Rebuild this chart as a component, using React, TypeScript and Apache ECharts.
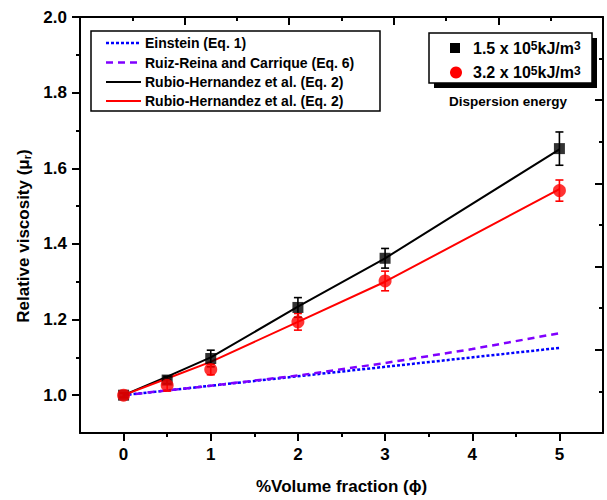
import React, { useEffect, useRef } from "react";
import * as echarts from "echarts";

// Volume fraction (%) of the measured suspensions
const phi = [0, 0.5, 1, 2, 3, 5];
// Relative viscosity, dispersion energy 1.5 x 10^5 kJ/m^3
const muLow = [1.0, 1.04, 1.097, 1.232, 1.362, 1.652];
const errLow = [0.006, 0.01, 0.022, 0.026, 0.026, 0.044];
// Relative viscosity, dispersion energy 3.2 x 10^5 kJ/m^3
const muHigh = [1.0, 1.026, 1.068, 1.194, 1.302, 1.541];
const errHigh = [0.006, 0.015, 0.014, 0.022, 0.026, 0.028];

// Model curves
const fitPhi = [0, 0.5, 1, 2, 3, 5];
const fitLow = [1.0, 1.049, 1.1, 1.234, 1.362, 1.65];
const fitHigh = [1.0, 1.044, 1.088, 1.194, 1.3, 1.545];
const einsteinPhi = [0, 5];
const einsteinMu = [1.0, 1.125];
const ruizPhi = [0, 1, 2, 3, 4, 5];
const ruizMu = [1.0, 1.025, 1.052, 1.085, 1.122, 1.164];

const modelNames = [
  "Einstein (Eq. 1)",
  "Ruiz-Reina and Carrique (Eq. 6)",
  "Rubio-Hernandez et al. (Eq. 2)",
  "Rubio-Hernandez et al. (Eq. 2)",
];
const energyNames = ["1.5 x 10{s|5}kJ/m{s|3}", "3.2 x 10{s|5}kJ/m{s|3}"];
const energyTitle = "Dispersion energy";

// Axis ticks
const xMajor = [0, 1, 2, 3, 4, 5];
const xMinor = [0.5, 1.5, 2.5, 3.5, 4.5];
const yMajor = [1.0, 1.2, 1.4, 1.6, 1.8, 2.0];
const yMinor = [1.1, 1.3, 1.5, 1.7, 1.9];
const frameMajor = [0, 1, 2, 3, 4, 5];
const frameMinor = [0.5, 1.5, 2.5, 3.5, 4.5];

const FONT = "'Liberation Sans', Arial, sans-serif";
const BLUE = "#0000ff";
const PURPLE = "#8000ff";
const RED = "#ff0000";
const BLACK = "#000000";

const pairs = (xs: number[], ys: number[]) => xs.map((x, i) => [x, ys[i]]);

function axis(
  position: string,
  min: number,
  max: number,
  ticks: number[],
  len: number,
  inside: boolean,
  showLine: boolean,
  labels?: number[],
  fmt?: (v: number) => string
): any {
  return {
    type: "value",
    position,
    min,
    max,
    splitLine: { show: false },
    axisLine: { show: showLine, onZero: false, lineStyle: { color: BLACK, width: 2 } },
    axisTick: {
      show: true,
      inside,
      length: len,
      customValues: ticks,
      lineStyle: { color: BLACK, width: 2 },
    },
    axisLabel: labels
      ? {
          show: true,
          customValues: labels,
          formatter: fmt,
          color: BLACK,
          fontFamily: FONT,
          fontWeight: "bold",
          fontSize: 17,
          margin: 13,
        }
      : { show: false },
  };
}

function errorSeries(values: number[], errs: number[], color: string, z: number): any {
  return {
    type: "custom",
    xAxisIndex: 0,
    yAxisIndex: 0,
    z,
    data: phi.map((x, i) => [x, values[i], errs[i]]),
    renderItem: (_params: any, api: any) => {
      const x = api.value(0);
      const y = api.value(1);
      const e = api.value(2);
      const top = api.coord([x, y + e]);
      const bot = api.coord([x, y - e]);
      const w = 4;
      const style = { stroke: color, lineWidth: 1.6 };
      return {
        type: "group",
        children: [
          { type: "line", shape: { x1: top[0], y1: top[1], x2: bot[0], y2: bot[1] }, style },
          { type: "line", shape: { x1: top[0] - w, y1: top[1], x2: top[0] + w, y2: top[1] }, style },
          { type: "line", shape: { x1: bot[0] - w, y1: bot[1], x2: bot[0] + w, y2: bot[1] }, style },
        ],
      };
    },
  };
}

export default function App() {
  const ref = useRef<HTMLDivElement>(null);

  useEffect(() => {
    document.body.style.margin = "0";
    if (!ref.current) return;
    const chart = echarts.init(ref.current, undefined, { renderer: "svg" });

    const legendRows = [43, 62.5, 82, 101];
    const legendStyles = [
      { stroke: BLUE, lineWidth: 2.5, lineDash: [3, 2] },
      { stroke: PURPLE, lineWidth: 2.5, lineDash: [7, 5] },
      { stroke: BLACK, lineWidth: 2 },
      { stroke: RED, lineWidth: 2 },
    ];

    const graphic: any[] = [
      {
        type: "rect",
        shape: { x: 91, y: 31, width: 289, height: 80 },
        style: { fill: "#fff", stroke: BLACK, lineWidth: 1.5 },
        z: 100,
      },
      ...legendRows.flatMap((y, i) => [
        {
          type: "line",
          shape: { x1: 106, y1: y, x2: 141, y2: y },
          style: legendStyles[i],
          z: 101,
        },
        {
          type: "text",
          x: 145,
          y,
          style: {
            text: modelNames[i],
            fill: BLACK,
            font: `bold 14px ${FONT}`,
            verticalAlign: "middle",
          },
          z: 101,
        },
      ]),
      // second legend, with its drop shadow
      {
        type: "rect",
        shape: { x: 434, y: 38, width: 163, height: 50 },
        style: { fill: BLACK },
        z: 100,
      },
      {
        type: "rect",
        shape: { x: 429, y: 33, width: 163, height: 50 },
        style: { fill: "#fff", stroke: BLACK, lineWidth: 1.5 },
        z: 101,
      },
      {
        type: "rect",
        shape: { x: 450, y: 43, width: 10, height: 10 },
        style: { fill: BLACK },
        z: 102,
      },
      {
        type: "circle",
        shape: { cx: 456, cy: 72.5, r: 6 },
        style: { fill: RED },
        z: 102,
      },
      ...[48, 72.5].map((y, i) => ({
        type: "text",
        x: 473,
        y,
        style: {
          text: energyNames[i],
          fill: BLACK,
          font: `bold 16px ${FONT}`,
          verticalAlign: "middle",
          rich: {
            s: {
              fontSize: 12,
              fontWeight: "bold",
              fontFamily: FONT,
              verticalAlign: "top",
              lineHeight: 12,
              padding: [0, 0, 9, 0],
            },
          },
        },
        z: 102,
      })),
      {
        type: "text",
        x: 508,
        y: 101,
        style: {
          text: energyTitle,
          fill: BLACK,
          font: `bold 13.5px ${FONT}`,
          align: "center",
          verticalAlign: "middle",
        },
        z: 101,
      },
    ];

    chart.setOption({
      animation: false,
      backgroundColor: "#fff",
      textStyle: { fontFamily: FONT, color: BLACK },
      grid: { left: 80, top: 17, right: 4, bottom: 67, containLabel: false },
      xAxis: [
        {
          ...axis("bottom", -0.5, 5.5, xMajor, 8, false, true, xMajor, (v: number) => String(v)),
          name: "%Volume fraction (\u03d5)",
          nameLocation: "middle",
          nameGap: 45,
          nameTextStyle: { fontFamily: FONT, fontWeight: "bold", fontSize: 17, color: BLACK },
        },
        axis("bottom", -0.5, 5.5, xMinor, 4, false, false),
        axis("top", 0, 5, frameMajor, 8, true, true),
        axis("top", 0, 5, frameMinor, 4, true, false),
      ],
      yAxis: [
        {
          ...axis("left", 0.9, 2.0, yMajor, 8, false, true, yMajor, (v: number) => v.toFixed(1)),
          name: "Relative viscosity (\u03bc{sub|r})",
          nameLocation: "middle",
          nameGap: 41,
          nameRotate: 90,
          nameTextStyle: {
            fontFamily: FONT,
            fontWeight: "bold",
            fontSize: 17,
            color: BLACK,
            padding: [0, 22, 0, 0],
            rich: {
              sub: {
                fontFamily: FONT,
                fontWeight: "bold",
                fontSize: 11,
                verticalAlign: "bottom",
                lineHeight: 11,
                padding: [8, 0, 0, 0],
              },
            },
          },
        },
        axis("left", 0.9, 2.0, yMinor, 4, false, false),
        axis("right", 0, 5, frameMajor, 8, true, true),
        axis("right", 0, 5, frameMinor, 4, true, false),
      ],
      series: [
        {
          type: "line",
          name: modelNames[0],
          data: pairs(einsteinPhi, einsteinMu),
          showSymbol: false,
          lineStyle: { color: BLUE, width: 2.5, type: [3, 2] },
          z: 2,
        },
        {
          type: "line",
          name: modelNames[1],
          data: pairs(ruizPhi, ruizMu),
          showSymbol: false,
          lineStyle: { color: PURPLE, width: 2.5, type: [7, 5] },
          z: 2,
        },
        {
          type: "line",
          name: modelNames[2],
          data: pairs(fitPhi, fitLow),
          showSymbol: false,
          lineStyle: { color: BLACK, width: 2 },
          z: 3,
        },
        {
          type: "line",
          name: modelNames[3],
          data: pairs(fitPhi, fitHigh),
          showSymbol: false,
          lineStyle: { color: RED, width: 2 },
          z: 3,
        },
        errorSeries(muLow, errLow, BLACK, 4),
        errorSeries(muHigh, errHigh, RED, 4),
        {
          type: "scatter",
          data: pairs(phi, muLow),
          symbol: "rect",
          symbolSize: 11,
          itemStyle: { color: BLACK },
          z: 5,
        },
        {
          type: "scatter",
          data: pairs(phi, muHigh),
          symbol: "circle",
          symbolSize: 13,
          itemStyle: { color: RED },
          z: 6,
        },
      ],
      graphic,
    });

    return () => chart.dispose();
  }, []);

  return <div ref={ref} style={{ width: 607, height: 500 }} />;
}
